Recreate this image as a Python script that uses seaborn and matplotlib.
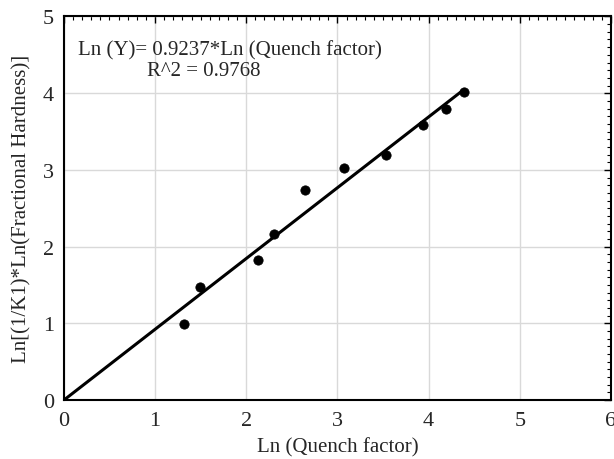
import numpy as np
import pandas as pd
import matplotlib
matplotlib.use("Agg")
import matplotlib.pyplot as plt
import seaborn as sns
from matplotlib.ticker import MultipleLocator

ln_quench = [1.32, 1.49, 2.13, 2.31, 2.65, 3.07, 3.53, 3.94, 4.19, 4.39]
ln_hardness = [0.99, 1.48, 1.83, 2.17, 2.74, 3.03, 3.19, 3.59, 3.80, 4.01]

# fitted line end points
fit_x = [0.0, 4.39]
fit_y = [0.0, 4.05]

fit_label = "Ln (Y)= 0.9237*Ln (Quench factor)"
r2_label = "R^2 = 0.9768"

sns.set_theme(style="white")
plt.rcParams['font.family'] = ['Liberation Serif', 'DejaVu Serif']

df = pd.DataFrame({"x": ln_quench, "y": ln_hardness})
line_df = pd.DataFrame({"x": fit_x, "y": fit_y})

fig = plt.figure(figsize=(6.14, 4.6), dpi=100)
ax = fig.add_axes([0.104, 0.128, 0.891, 0.834])

ax.grid(True, which="major", color="#d9d9d9", linewidth=1.0)
sns.lineplot(data=line_df, x="x", y="y", color="black", linewidth=2.2, ax=ax, zorder=3)
sns.scatterplot(data=df, x="x", y="y", color="black", s=45, edgecolor="black", ax=ax, zorder=4)

ax.set_xlim(0, 6)
ax.set_ylim(0, 5)
ax.xaxis.set_major_locator(MultipleLocator(1))
ax.yaxis.set_major_locator(MultipleLocator(1))
ax.xaxis.set_minor_locator(MultipleLocator(0.1))
ax.yaxis.set_minor_locator(MultipleLocator(0.1))
ax.tick_params(which="both", direction="in", top=True, right=True, color="black")
ax.tick_params(which="major", length=5, width=1.0, labelsize=16)
ax.tick_params(axis="x", which="major", pad=8)
ax.tick_params(axis="y", which="major", pad=7)
ax.tick_params(which="minor", length=3, width=0.8)

for s in ax.spines.values():
    s.set_color("black")
    s.set_linewidth(1.5)

ax.set_xlabel("Ln (Quench factor)", fontsize=15, labelpad=5)
ax.set_ylabel("Ln[(1/K1)*Ln(Fractional Hardness)]", fontsize=15, labelpad=8)

ax.text(0.15, 4.57, fit_label, fontsize=15, ha="left", va="center")
ax.text(0.91, 4.3, r2_label, fontsize=15, ha="left", va="center")

fig.savefig("out.png", dpi=100)
